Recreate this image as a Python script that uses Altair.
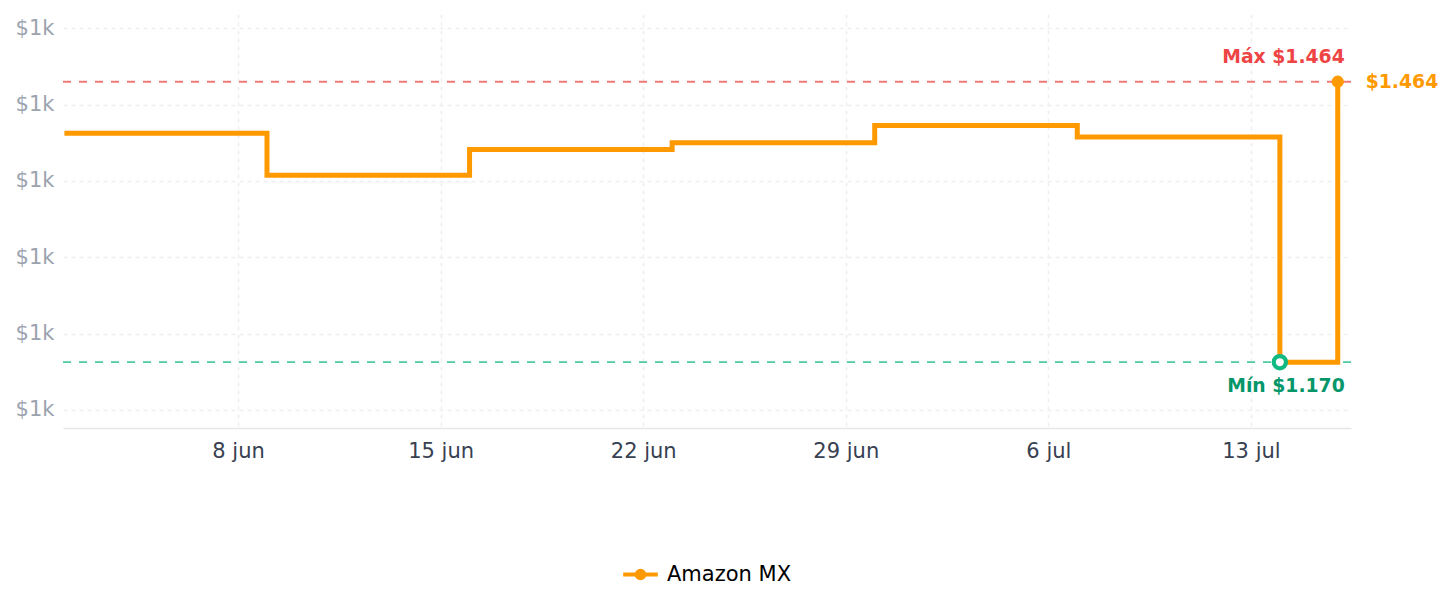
import altair as alt
import pandas as pd

# ---- data ----
dates = ["2025-06-02", "2025-06-09", "2025-06-16", "2025-06-23",
         "2025-06-30", "2025-07-07", "2025-07-14", "2025-07-16"]
prices = [1410, 1366, 1393, 1400, 1418, 1406, 1170, 1464]
store = "Amazon MX"
y_ticks = [1120, 1200, 1280, 1360, 1440, 1520]
x_ticks = ["2025-06-08", "2025-06-15", "2025-06-22", "2025-06-29", "2025-07-06", "2025-07-13"]
x_domain = ["2025-06-01T22:50", "2025-07-16T11:00"]
y_domain = [1101, 1535]

ORANGE = "#ff9900"
RED = "#ef4444"
GREEN = "#10b981"
GREEN_TXT = "#059669"
FONT = "DejaVu Sans"


def dt(s):
    d, _, t = s.partition("T")
    y, m, day = (int(v) for v in d.split("-"))
    hh, mm = (int(v) for v in t.split(":")) if t else (0, 0)
    return alt.DateTime(year=y, month=m, date=day, hours=hh, minutes=mm, utc=True)


def fmt(v):
    return "$" + f"{v:,}".replace(",", ".")


iso = [d + "T00:00:00Z" for d in dates]
df = pd.DataFrame({"date": iso, "price": prices, "store": store})

pmax, pmin = max(prices), min(prices)
d_min = iso[prices.index(pmin)]
d_last = iso[-1]
p_last = prices[-1]

xenc = alt.X(
    "date:T",
    scale=alt.Scale(type="utc", domain=[dt(x_domain[0]), dt(x_domain[1])]),
    axis=alt.Axis(
        title=None,
        values=[dt(v) for v in x_ticks],
        labelExpr="utcFormat(datum.value, '%-d') + ' ' + lower(utcFormat(datum.value, '%b'))",
        labelFontSize=21,
        labelColor="#374151",
        labelFont=FONT,
        labelPadding=12,
        ticks=False,
        tickSize=0,
        domain=True,
        domainColor="#e5e7eb",
        domainWidth=1.5,
        grid=True,
        gridColor="#efefef",
        gridDash=[4, 4],
        gridWidth=1.5,
    ),
)
yenc = alt.Y(
    "price:Q",
    scale=alt.Scale(domain=y_domain, zero=False, nice=False),
    axis=alt.Axis(
        title=None,
        values=y_ticks,
        labelExpr="'$' + floor(datum.value / 1000) + 'k'",
        labelFontSize=21,
        labelColor="#9ca3af",
        labelFont=FONT,
        labelPadding=9,
        ticks=False,
        tickSize=0,
        domain=False,
        grid=True,
        gridColor="#efefef",
        gridDash=[4, 4],
        gridWidth=1.5,
        minExtent=58,
        maxExtent=58,
    ),
)

base = alt.Chart(df)

sym_path = ("M-1,0L1,0M-0.22,0A0.22,0.22,0,1,0,0.22,0"
            "A0.22,0.22,0,1,0,-0.22,0Z")

line = base.mark_line(interpolate="step-after", strokeWidth=5, strokeJoin="miter").encode(
    x=xenc,
    y=yenc,
    color=alt.Color(
        "store:N",
        scale=alt.Scale(domain=[store], range=[ORANGE]),
        legend=alt.Legend(
            title=None,
            orient="none",
            legendX=558,
            legendY=541,
            direction="horizontal",
            symbolType=sym_path,
            symbolSize=1200,
            symbolStrokeWidth=4,
            symbolFillColor=ORANGE,
            symbolStrokeColor=ORANGE,
            labelFontSize=21,
            labelColor="#000000",
            labelFont=FONT,
            labelOffset=7,
        ),
    ),
)

ref_df = pd.DataFrame({"v": [pmax, pmin], "kind": ["max", "min"]})
rule_max = alt.Chart(ref_df[ref_df.kind == "max"]).mark_rule(
    color=RED, strokeDash=[8, 8], strokeWidth=1.8, opacity=0.72
).encode(y=alt.Y("v:Q", scale=alt.Scale(domain=y_domain)))
rule_min = alt.Chart(ref_df[ref_df.kind == "min"]).mark_rule(
    color=GREEN, strokeDash=[8, 8], strokeWidth=1.8, opacity=0.75
).encode(y=alt.Y("v:Q", scale=alt.Scale(domain=y_domain)))

last_df = pd.DataFrame({"date": [d_last], "price": [p_last], "label": [fmt(p_last)]})
min_df = pd.DataFrame({"date": [d_min], "price": [pmin]})
ann_df = pd.DataFrame({
    "date": [d_last, d_last],
    "price": [pmax, pmin],
    "label": ["Máx " + fmt(pmax), "Mín " + fmt(pmin)],
    "kind": ["max", "min"],
})

xs = alt.X("date:T", scale=alt.Scale(type="utc"))
ys = alt.Y("price:Q")

last_pt = alt.Chart(last_df).mark_circle(color=ORANGE, size=150, opacity=1).encode(x=xs, y=ys)
last_txt = alt.Chart(last_df).mark_text(
    align="left", baseline="middle", dx=28, fontSize=18.8, fontWeight="bold", color=ORANGE, font=FONT
).encode(x=xs, y=ys, text="label:N")
min_pt = alt.Chart(min_df).mark_circle(
    fill="white", fillOpacity=1, stroke=GREEN, strokeWidth=4.2, strokeOpacity=1, size=150, opacity=1
).encode(x=xs, y=ys)
max_txt = alt.Chart(ann_df[ann_df.kind == "max"]).mark_text(
    align="right", baseline="alphabetic", dx=7, dy=-18.5, fontSize=18.8, fontWeight="bold", color=RED, font=FONT
).encode(x=xs, y=ys, text="label:N")
min_txt = alt.Chart(ann_df[ann_df.kind == "min"]).mark_text(
    align="right", baseline="alphabetic", dx=7, dy=30, fontSize=18.8, fontWeight="bold", color=GREEN_TXT, font=FONT
).encode(x=xs, y=ys, text="label:N")

chart = alt.layer(
    rule_max, rule_min, line, last_pt, min_pt, max_txt, min_txt, last_txt
).properties(
    width=1288,
    height=414,
    padding={"left": 5, "top": 14, "right": 5, "bottom": 5},
    background="white",
).configure(font=FONT).configure_view(strokeWidth=0, stroke="transparent")

chart.save("out.html", embed_options={"renderer": "svg", "actions": False})
